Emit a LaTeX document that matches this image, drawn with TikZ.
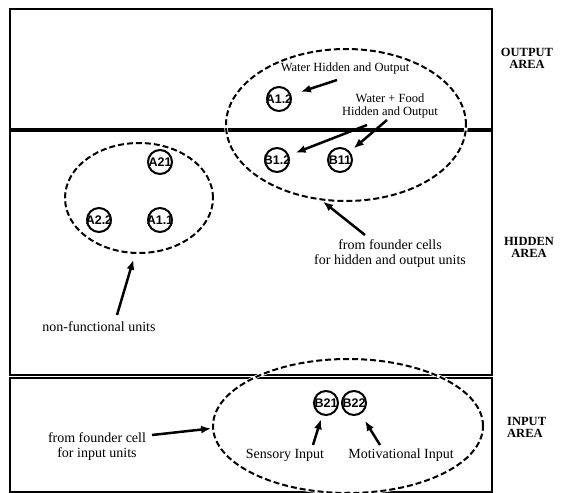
\documentclass[tikz,border=0pt]{standalone}
\usepackage{fontspec}
\setmainfont{Liberation Serif}
\newfontfamily\cellfont{Liberation Sans}
\usetikzlibrary{arrows.meta}
\usetikzlibrary{shapes.geometric}
\usetikzlibrary{calc}

\begin{document}
\begin{tikzpicture}[x=1pt, y=-1pt,
			cellnode/.style={circle, draw=black, line width=2pt, minimum size=24pt, inner sep=0pt, font=\cellfont\bfseries\fontsize{12.5}{13}\selectfont},
			groupnode/.style={ellipse, draw=black, line width=2pt, dash pattern=on 6pt off 3pt, inner sep=0pt, preaction={draw=white, line width=3.5pt, solid}},
			smalltext/.style={align=center, inner sep=1pt, font=\fontsize{12.5}{13}\selectfont},
			textnode/.style={align=center, inner sep=1pt, font=\fontsize{14}{15}\selectfont},
			areanode/.style={align=center, inner sep=0pt, font=\bfseries\fontsize{12.5}{12}\selectfont},
			arrowline/.style={-{Latex[length=10pt,width=8pt]}, line width=2.5pt},
			]
			\useasboundingbox (0,0) rectangle (579,493);
			%Areas
			\draw[line width=2pt] (10,9) rectangle (492,374.5);
			\draw[line width=2pt] (10,377.5) rectangle (492,492);
			\draw[line width=4pt] (10,130) -- (492,130);
			
			%Groups
			\node[groupnode, minimum width=240pt, minimum height=152pt] (OutGroup) at (346,125) {};
			\node[groupnode, minimum width=148pt, minimum height=110pt] (FreeGroup) at (139,198) {};
			\node[groupnode, minimum width=270pt, minimum height=134pt] (InGroup) at (348,426) {};
			
			%Cells
			\node[cellnode] (A12) at (279,99) {\makebox[0pt]{A1.2}};
			\node[cellnode] (B12) at (277,160) {\makebox[0pt]{B1.2}};
			\node[cellnode] (B11) at (340,160) {\makebox[0pt]{B11}};
			\node[cellnode] (A21) at (160,162) {\makebox[0pt]{A21}};
			\node[cellnode] (A22) at (99,220) {\makebox[0pt]{A2.2}};
			\node[cellnode] (A11) at (160,220) {\makebox[0pt]{A1.1}};
			\node[cellnode] (B21) at (326,403) {\makebox[0pt]{B21}};
			\node[cellnode] (B22) at (354,403) {\makebox[0pt]{B22}};
			
			%Labels
			\node[smalltext] (WaterOut) at (345,68) {Water Hidden and Output};
			\node[smalltext] (FoodOut) at (390,106) {Water + Food\\Hidden and Output};
			\node[textnode] (FounderCells) at (390,254) {from founder cells\\for hidden and output units};
			\node[textnode] (NonFunctional) at (99,327) {non-functional units};
			\node[textnode] (FounderCell) at (97,447) {from founder cell\\for input units};
			\node[textnode] (Sensory) at (285,455) {Sensory Input};
			\node[textnode] (Motivational) at (401,455) {Motivational Input};
			
			\node[areanode] (OutputArea) at (527,58) {OUTPUT\\AREA};
			\node[areanode] (HiddenArea) at (529,247) {HIDDEN\\AREA};
			\node[areanode, align=left, anchor=west] (InputArea) at (507,427) {INPUT\\AREA};
			
			%Lines
			\draw[arrowline, shorten >=10pt] ($(WaterOut)+(-8,12)$) -- (A12);
			\draw[arrowline, shorten >=7pt] ($(FoodOut)+(-23,19)$) -- (B12);
			\draw[arrowline, shorten >=5pt] ($(FoodOut)+(-3,14)$) -- (B11);
			\draw[arrowline, shorten >=2pt] ($(FounderCells)+(-25,-19)$) -- (OutGroup.-108);
			\draw[arrowline, shorten >=6pt] ($(NonFunctional)+(18,-12)$) -- (FreeGroup.-94);
			\draw[arrowline, shorten >=1pt] ($(FounderCell)+(55,-12)$) -- (InGroup.181);
			\draw[arrowline, shorten >=4pt] ($(Sensory)+(28,-10)$) -- (B21);
			\draw[arrowline, shorten >=8pt] ($(Motivational)+(-21,-10)$) -- (B22);
		\end{tikzpicture}
\end{document}
